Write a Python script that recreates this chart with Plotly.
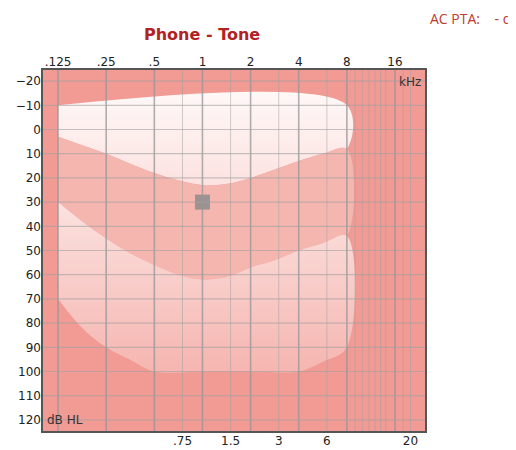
import plotly.graph_objects as go
import numpy as np

top_ticks = [0.125, 0.25, 0.5, 1, 2, 4, 8, 16]
top_labels = [".125", ".25", ".5", "1", "2", "4", "8", "16"]
bot_ticks = [0.75, 1.5, 3, 6, 20]
bot_labels = [".75", "1.5", "3", "6", "20"]
y_ticks = list(range(-20, 121, 10))
minor_grid = [0.75, 1.5, 3, 6, 9, 10, 11, 12, 13, 14, 18, 20]

curve_freq = [0.125, 0.177, 0.25, 0.35, 0.5, 0.707, 1, 1.41, 2, 2.83, 4, 5.66, 8]
curve_a = [3, 6.5, 10, 14, 18, 21, 23, 22.5, 20, 16.5, 13, 10, 8]
curve_b = [30, 38, 45, 51, 56, 60, 62, 61, 57, 54, 50, 47, 44]
c_freq = [0.125, 0.177, 0.25, 0.35, 0.5, 1, 2, 4, 5.66, 8]
curve_c = [70, 82, 90, 95, 100, 100, 100, 100, 96, 90]
pt_freq = [1]
pt_db = [30]

SAL = "#F29A94"
fig = go.Figure()
fig.add_trace(go.Scatter(x=[0.125, 8] + curve_freq[::-1], y=[-10, -10] + curve_a[::-1],
    fill="toself", mode="none", fillcolor="#FDF3F2", line_shape="spline",
    fillgradient=dict(type="vertical", colorscale=[[0, "#FCE2E0"], [1, "#FEF8F7"]]),
    hoverinfo="skip", showlegend=False))
fig.add_trace(go.Scatter(x=curve_freq + curve_freq[::-1], y=curve_a + curve_b[::-1],
    fill="toself", mode="none", fillcolor="#F6B6B0", line_shape="spline",
    hoverinfo="skip", showlegend=False))
fig.add_trace(go.Scatter(x=curve_freq + c_freq[::-1], y=curve_b + curve_c[::-1],
    fill="toself", mode="none", fillcolor="#F9CFCB", line_shape="spline",
    fillgradient=dict(type="vertical", colorscale=[[0, "#F6B5B0"], [1, "#FBE2DF"]]),
    hoverinfo="skip", showlegend=False))
fig.add_trace(go.Scatter(x=pt_freq, y=pt_db, mode="markers",
    marker=dict(symbol="square", size=15, color="rgba(140,140,140,0.85)"),
    showlegend=False, hoverinfo="skip"))
fig.add_trace(go.Scatter(x=[1], y=[0], xaxis="x2", mode="markers", marker=dict(opacity=0),
    showlegend=False, hoverinfo="skip"))

shapes = []
for f in top_ticks:
    shapes.append(dict(type="line", xref="x", yref="paper", x0=f, x1=f, y0=0, y1=1,
                       line=dict(color="rgba(150,150,150,0.75)", width=1.6), layer="above"))
for f in minor_grid:
    shapes.append(dict(type="line", xref="x", yref="paper", x0=f, x1=f, y0=0, y1=1,
                       line=dict(color="rgba(160,160,160,0.5)", width=1), layer="above"))
for v in y_ticks:
    shapes.append(dict(type="line", xref="paper", yref="y", x0=0, x1=1, y0=v, y1=v,
                       line=dict(color="rgba(160,160,160,0.6)", width=1.2), layer="above"))
shapes.append(dict(type="rect", xref="paper", yref="paper", x0=0, x1=1, y0=0, y1=1,
                   line=dict(color="#555", width=2), layer="above"))

W, H = 384, 363
xr = [np.log10(0.0992), np.log10(25)]
fig.update_layout(
    width=516, height=450, margin=dict(l=34, r=98, t=61, b=26, autoexpand=False),
    paper_bgcolor="white", plot_bgcolor=SAL, shapes=shapes,
    font=dict(family="DejaVu Sans", size=12, color="#222"),
    xaxis=dict(type="log", range=xr, tickvals=bot_ticks, ticktext=bot_labels, automargin=False,
               showgrid=False, zeroline=False, ticks="", tickfont=dict(size=12)),
    xaxis2=dict(type="log", range=xr, overlaying="x", side="top", tickvals=top_ticks, automargin=False,
                ticktext=top_labels, showgrid=False, ticks="", tickfont=dict(size=12)),
    yaxis=dict(range=[125, -25], tickvals=y_ticks, showgrid=False, zeroline=False, automargin=False,
               ticks="", tickfont=dict(size=12)),
    annotations=[
        dict(text="<b>Phone - Tone</b>", xref="paper", yref="paper", x=(194 - 34) / W,
             y=1 + 34 / H, xanchor="center", yanchor="middle",
             showarrow=False, font=dict(size=16, color="#B22222")),
        dict(text="AC PTA:    - dB", xref="paper", yref="paper", x=(514 - 34) / W,
             y=1 + 51 / H, xanchor="right", yanchor="middle",
             showarrow=False, font=dict(size=14, color="#C0392B", family="Open Sans")),
        dict(text="kHz", x=1, y=1, xref="paper", yref="paper", xanchor="right", yanchor="top",
             xshift=-3, yshift=-4, showarrow=False, font=dict(size=12, color="#333")),
        dict(text="dB HL", x=0, y=0, xref="paper", yref="paper", xanchor="left", yanchor="bottom",
             xshift=3, yshift=3, showarrow=False, font=dict(size=12, color="#333")),
    ],
)
fig.write_html("out.html")
